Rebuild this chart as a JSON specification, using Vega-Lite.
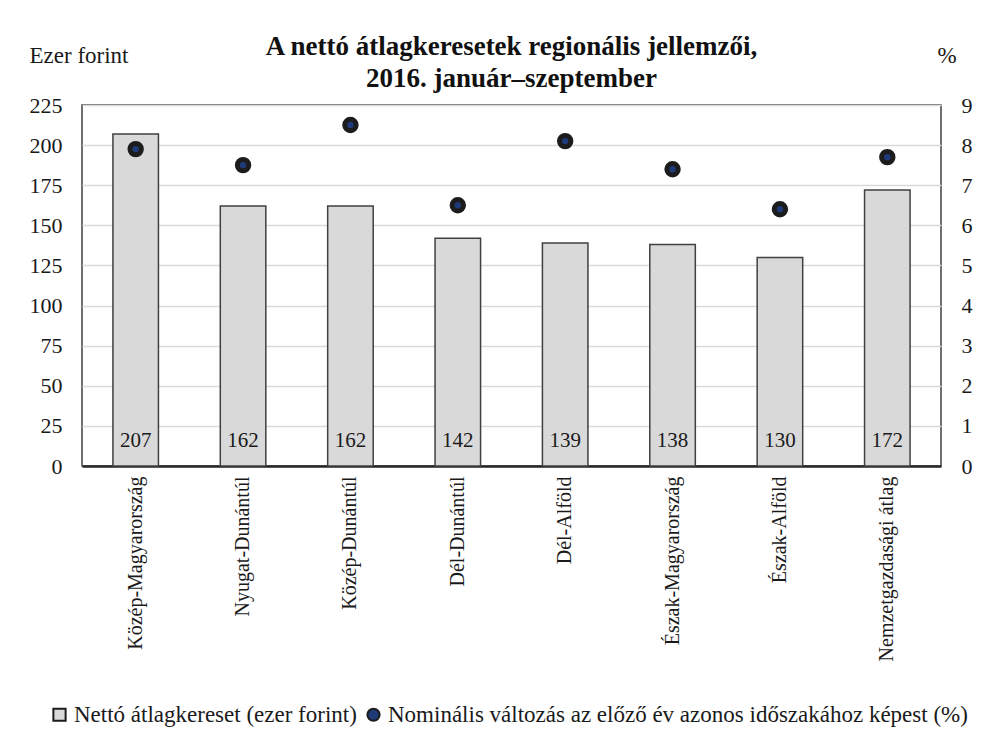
{
  "$schema": "https://vega.github.io/schema/vega-lite/v6.json",
  "width": 859,
  "height": 361,
  "autosize": {"type": "none"},
  "padding": {"left": 82, "top": 105, "right": 41, "bottom": 273},
  "background": "white",
  "title": {
    "text": ["A nettó átlagkeresetek regionális jellemzői,", "2016. január–szeptember"],
    "font": "Liberation Serif",
    "fontSize": 27,
    "fontWeight": "bold",
    "lineHeight": 32,
    "color": "#111111",
    "anchor": "middle",
    "frame": "group",
    "offset": -49
  },
  "config": {
    "font": "Liberation Serif",
    "view": {"stroke": "#404040", "strokeWidth": 1.5},
    "text": {"font": "Liberation Serif"},
    "title": {"font": "Liberation Serif"},
    "axis": {
      "labelFont": "Liberation Serif",
      "labelFontSize": 22,
      "labelColor": "#1a1a1a",
      "titleFont": "Liberation Serif",
      "titleFontSize": 23,
      "titleFontWeight": "normal",
      "titleColor": "#1a1a1a",
      "ticks": false
    },
    "legend": {
      "labelFont": "Liberation Serif",
      "labelFontSize": 23,
      "labelColor": "#1a1a1a",
      "labelLimit": 700
    }
  },
  "data": {
    "values": [
      {"region": "Közép-Magyarország", "netto": 207, "valtozas": 7.9},
      {"region": "Nyugat-Dunántúl", "netto": 162, "valtozas": 7.5},
      {"region": "Közép-Dunántúl", "netto": 162, "valtozas": 8.5},
      {"region": "Dél-Dunántúl", "netto": 142, "valtozas": 6.5},
      {"region": "Dél-Alföld", "netto": 139, "valtozas": 8.1},
      {"region": "Észak-Magyarország", "netto": 138, "valtozas": 7.4},
      {"region": "Észak-Alföld", "netto": 130, "valtozas": 6.4},
      {"region": "Nemzetgazdasági átlag", "netto": 172, "valtozas": 7.7}
    ]
  },
  "encoding": {
    "x": {
      "field": "region",
      "type": "nominal",
      "sort": null,
      "scale": {"paddingInner": 0.576, "paddingOuter": 0.288},
      "axis": {
        "title": null,
        "labelAngle": -90,
        "labelPadding": 10,
        "labelFont": "Liberation Serif",
        "labelFontSize": 20,
        "domainColor": "#262626",
        "domainWidth": 2.5,
        "grid": false,
        "labelLimit": 300
      }
    }
  },
  "layer": [
    {
      "encoding": {
        "y": {
          "field": "netto",
          "type": "quantitative",
          "scale": {"domain": [0, 225], "nice": false},
          "axis": {
            "title": "Ezer forint",
            "values": [0, 25, 50, 75, 100, 125, 150, 175, 200, 225],
            "labelPadding": 20,
            "labelFont": "Liberation Serif",
            "titleFont": "Liberation Serif",
            "domain": false,
            "grid": true,
            "gridColor": "#d9d9d9",
            "gridWidth": 1.5,
            "titleAngle": 0,
            "titleAlign": "left",
            "titleBaseline": "middle",
            "titleX": -53,
            "titleY": -50
          }
        }
      },
      "layer": [
        {
          "mark": {"type": "bar", "stroke": "#404040", "strokeWidth": 1.5},
          "encoding": {
            "fill": {
              "datum": "Nettó átlagkereset (ezer forint)",
              "type": "nominal",
              "scale": {
                "domain": ["Nettó átlagkereset (ezer forint)", "Nominális változás az előző év azonos időszakához képest (%)"],
                "range": ["#d9d9d9", "#1f3a78"]
              },
              "legend": {
                "title": null,
                "orient": "none",
                "direction": "horizontal",
                "legendX": -34,
                "legendY": 598,
                "symbolSize": 150,
                "symbolStrokeColor": "#262626",
                "symbolStrokeWidth": 2,
                "labelOffset": 3,
                "columnPadding": 5,
                "labelFont": "Liberation Serif",
                "labelLimit": 700
              }
            }
          }
        },
        {
          "mark": {"type": "text", "baseline": "middle", "dy": -25, "fontSize": 21, "color": "#1a1a1a", "font": "Liberation Serif"},
          "encoding": {
            "y": {"datum": 0, "type": "quantitative"},
            "text": {"field": "netto", "type": "quantitative"}
          }
        }
      ]
    },
    {
      "mark": {"type": "point", "filled": true, "size": 130, "stroke": "#1c1c1c", "strokeWidth": 5, "opacity": 1},
      "encoding": {
        "y": {
          "field": "valtozas",
          "type": "quantitative",
          "scale": {"domain": [0, 9], "nice": false},
          "axis": {
            "orient": "right",
            "title": "%",
            "values": [0, 1, 2, 3, 4, 5, 6, 7, 8, 9],
            "labelPadding": 20,
            "labelFont": "Liberation Serif",
            "titleFont": "Liberation Serif",
            "domain": false,
            "grid": false,
            "titleAngle": 0,
            "titleAlign": "left",
            "titleBaseline": "middle",
            "titleX": -4,
            "titleY": -50
          }
        },
        "fill": {"datum": "Nominális változás az előző év azonos időszakához képest (%)", "type": "nominal"},
        "shape": {
          "datum": "Nominális változás az előző év azonos időszakához képest (%)",
          "type": "nominal",
          "scale": {
            "domain": ["Nettó átlagkereset (ezer forint)", "Nominális változás az előző év azonos időszakához képest (%)"],
            "range": ["square", "circle"]
          }
        }
      }
    }
  ],
  "resolve": {"scale": {"y": "independent"}}
}
